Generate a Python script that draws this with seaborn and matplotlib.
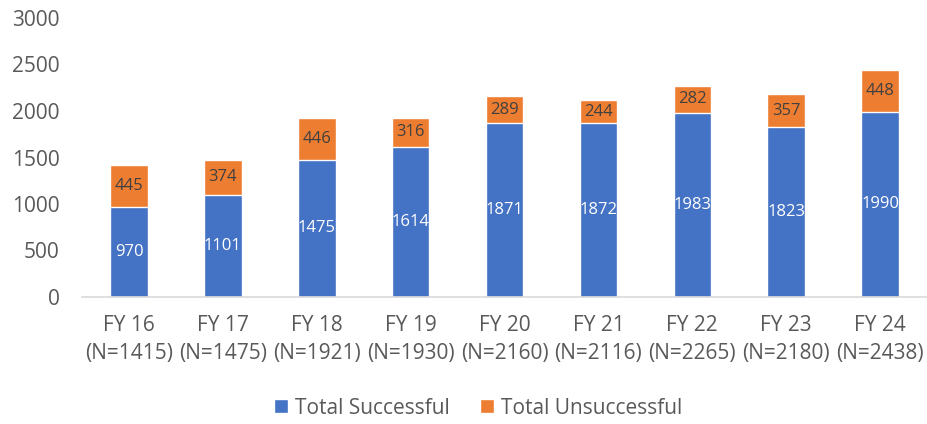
import pandas as pd
import numpy as np
import matplotlib
matplotlib.use('Agg')
import matplotlib.pyplot as plt
import seaborn as sns

years = ['FY 16', 'FY 17', 'FY 18', 'FY 19', 'FY 20', 'FY 21', 'FY 22', 'FY 23', 'FY 24']
totals = [1415, 1475, 1921, 1930, 2160, 2116, 2265, 2180, 2438]
successful = [970, 1101, 1475, 1614, 1871, 1872, 1983, 1823, 1990]
unsuccessful = [445, 374, 446, 316, 289, 244, 282, 357, 448]

labels = [f'{y}\n(N={n})' for y, n in zip(years, totals)]

sns.set_style('white')
plt.rcParams['font.family'] = ['Open Sans', 'DejaVu Sans']

blue = '#4472C4'
orange = '#ED7D31'
grey = '#595959'

df = pd.DataFrame({'label': labels, 'succ': successful,
                   'total': np.array(successful) + np.array(unsuccessful)})

fig = plt.figure(figsize=(9.27, 4.24), dpi=100)
ax = fig.add_axes([82 / 927, 1 - 297 / 424, 845 / 927, 279 / 424])

# stacked bars: totals (orange) first, successful (blue) over them
sns.barplot(data=df, x='label', y='total', color=orange, width=0.4,
            saturation=1, ax=ax, label='Total Unsuccessful')
sns.barplot(data=df, x='label', y='succ', color=blue, width=0.4,
            saturation=1, ax=ax, label='Total Successful')
handles, lbls = ax.get_legend_handles_labels()
if ax.get_legend() is not None:
    ax.get_legend().remove()

for i, (s, u) in enumerate(zip(successful, unsuccessful)):
    ax.text(i, s / 2, str(s), ha='center', va='center', color='white', fontsize=12)
    ax.text(i, s + u / 2, str(u), ha='center', va='center', color='#404040', fontsize=12)

ax.set_ylim(0, 3000)
ax.set_xlim(-0.5, 8.5)
ax.set_yticks(range(0, 3001, 500))
ax.set_xlabel('')
ax.set_ylabel('')
ax.tick_params(axis='both', colors=grey, labelsize=15, length=0)
ax.tick_params(axis='x', pad=13)
ax.tick_params(axis='y', pad=16)
for t in ax.get_xticklabels():
    t.set_linespacing(1.45)
for sp in ['top', 'right', 'left']:
    ax.spines[sp].set_visible(False)
ax.spines['bottom'].set_color('#D9D9D9')
ax.spines['bottom'].set_linewidth(1.2)

order = [lbls.index('Total Successful'), lbls.index('Total Unsuccessful')]
fig.legend([handles[k] for k in order], [lbls[k] for k in order],
           loc='center', bbox_to_anchor=(0.516, 1 - 408 / 424), ncol=2, frameon=False,
           fontsize=15, labelcolor=grey, handlelength=0.65, handleheight=0.65,
           columnspacing=1.45, handletextpad=0.35)

fig.savefig('out.png', dpi=100)
